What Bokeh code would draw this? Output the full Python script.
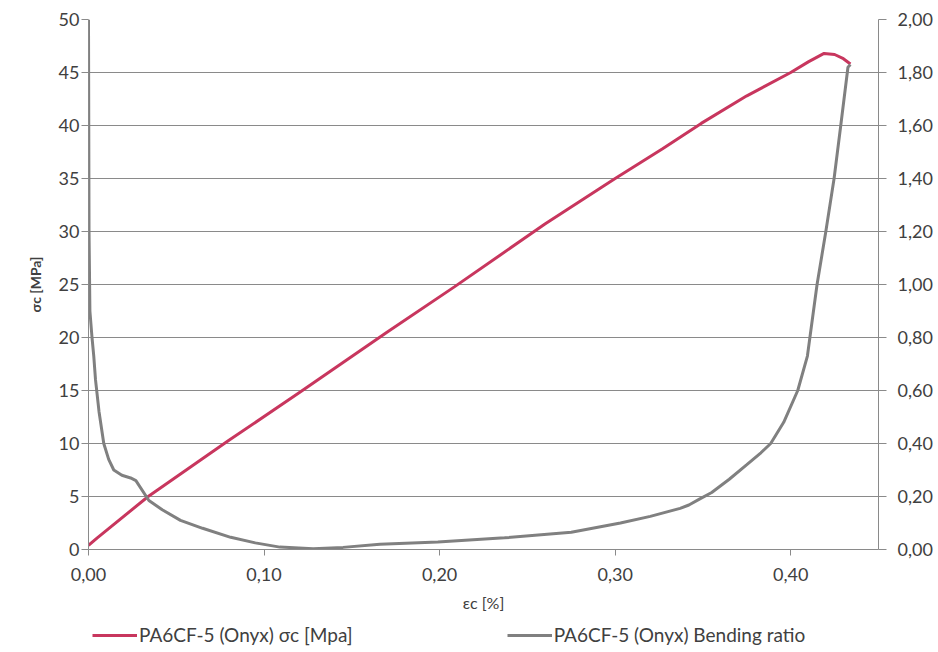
from bokeh.plotting import figure
from bokeh.layouts import column
from bokeh.models import (Range1d, LinearAxis, FixedTicker, CustomJSTickFormatter,
                          Legend, LegendItem)
from bokeh.embed import file_html
from bokeh.resources import INLINE

# ---- data ----
strain_stress = [0.0, 0.005, 0.034, 0.08, 0.121, 0.17, 0.2086, 0.26, 0.30, 0.327,
                 0.349, 0.375, 0.40, 0.41, 0.419, 0.425, 0.43, 0.434]
stress = [0.4, 1.1, 5.0, 10.3, 14.9, 20.5, 24.8, 30.7, 35.0, 37.8,
          40.2, 42.8, 45.0, 46.0, 46.8, 46.7, 46.3, 45.8]

strain_ratio = [0.0, 0.0003, 0.0008, 0.002, 0.003, 0.004, 0.006, 0.0087, 0.0115,
                0.0144, 0.019, 0.024, 0.027, 0.0344, 0.042, 0.0524, 0.065, 0.081,
                0.095, 0.109, 0.128, 0.145, 0.166, 0.199, 0.237, 0.275, 0.303,
                0.32, 0.337, 0.342, 0.348, 0.355, 0.365, 0.375, 0.383, 0.3886,
                0.396, 0.404, 0.4095, 0.415, 0.42, 0.4247, 0.4285, 0.4326, 0.434]
bending_ratio = [2.0, 1.2, 0.9, 0.8, 0.73, 0.64, 0.52, 0.40, 0.34,
                 0.30, 0.28, 0.27, 0.26, 0.185, 0.15, 0.11, 0.08, 0.046,
                 0.025, 0.009, 0.003, 0.008, 0.02, 0.028, 0.044, 0.065, 0.1,
                 0.125, 0.155, 0.168, 0.19, 0.215, 0.265, 0.32, 0.365, 0.40,
                 0.48, 0.6, 0.73, 1.0, 1.2, 1.4, 1.6, 1.82, 1.83]

x_ticks = [0.0, 0.1, 0.2, 0.3, 0.4]
y_ticks = [0, 5, 10, 15, 20, 25, 30, 35, 40, 45, 50]
y2_ticks = [0.0, 0.2, 0.4, 0.6, 0.8, 1.0, 1.2, 1.4, 1.6, 1.8, 2.0]

label_stress = "PA6CF-5 (Onyx) σc [Mpa]"
label_ratio = "PA6CF-5 (Onyx) Bending ratio"

FONT = "Lato"
TXT = "#404040"
GRID = "#8a8a8a"
RED = "#C8365E"
GREY = "#808080"

p = figure(frame_width=790, frame_height=530, output_backend="svg",
           toolbar_location=None,
           x_range=Range1d(0, 0.45), y_range=Range1d(0, 50),
           min_border_left=88, min_border_right=10, min_border_top=19,
           min_border_bottom=10)
p.outline_line_color = None
p.background_fill_color = "white"
p.border_fill_color = "white"
p.extra_y_ranges = {"ratio": Range1d(0, 2)}

r1 = p.line(strain_stress, stress, line_color=RED, line_width=3)
r2 = p.line(strain_ratio, bending_ratio, line_color=GREY, line_width=3,
            y_range_name="ratio")

comma2 = CustomJSTickFormatter(code="return tick.toFixed(2).replace('.', ',');")
comma0 = CustomJSTickFormatter(code="return tick.toFixed(0);")

def style_axis(ax):
    ax.axis_line_color = GRID
    ax.major_tick_line_color = GRID
    ax.major_tick_out = 7
    ax.major_tick_in = 0
    ax.minor_tick_line_color = None
    ax.major_label_text_font = FONT
    ax.major_label_text_font_size = "18px"
    ax.major_label_text_color = TXT
    ax.axis_label_text_font = FONT
    ax.axis_label_text_color = TXT

p.xaxis.ticker = FixedTicker(ticks=x_ticks)
p.xaxis.formatter = comma2
p.xaxis.axis_label = "εc [%]"
p.xaxis.axis_label_text_font_style = "normal"
p.xaxis.axis_label_text_font_size = "16px"
p.xaxis.major_label_standoff = 12
p.xaxis.axis_label_standoff = 9
style_axis(p.xaxis[0])
p.xaxis.major_tick_out = 6

p.yaxis.ticker = FixedTicker(ticks=y_ticks)
p.yaxis.formatter = comma0
p.yaxis.axis_label = "σc [MPa]"
p.yaxis.axis_label_text_font_style = "bold"
p.yaxis.axis_label_text_font_size = "14px"
p.yaxis.major_label_standoff = 2
p.yaxis.axis_label_standoff = 12
style_axis(p.yaxis[0])

ax2 = LinearAxis(y_range_name="ratio", ticker=FixedTicker(ticks=y2_ticks),
                 formatter=comma2)
style_axis(ax2)
ax2.major_tick_out = 8
ax2.major_label_standoff = 11
p.add_layout(ax2, "right")

p.xgrid.grid_line_color = None
p.ygrid.ticker = FixedTicker(ticks=y_ticks)
p.ygrid.grid_line_color = GRID
p.ygrid.grid_line_width = 1

# legend strip underneath the chart (series drawn off-view, only their keys show)
lg = figure(frame_width=790, frame_height=32, output_backend="svg",
            toolbar_location=None, x_axis_type=None, y_axis_type=None,
            x_range=Range1d(0, 0.45), y_range=Range1d(-20, -10),
            min_border_left=88, min_border_right=10, min_border_top=0,
            min_border_bottom=0)
lg.outline_line_color = None
lg.xgrid.grid_line_color = None
lg.ygrid.grid_line_color = None
k1 = lg.line(strain_stress, stress, line_color=RED, line_width=3)
k2 = lg.line(strain_ratio, bending_ratio, line_color=GREY, line_width=3)
legend = Legend(items=[LegendItem(label=label_stress, renderers=[k1]),
                       LegendItem(label=label_ratio, renderers=[k2])],
                orientation="horizontal", location=(4, 0),
                glyph_width=45, glyph_height=14, label_standoff=2,
                spacing=154, padding=4, margin=0,
                label_text_font=FONT, label_text_font_size="19px",
                label_text_color=TXT, border_line_color=None,
                background_fill_alpha=0)
lg.add_layout(legend, "center")

open("out.html", "w").write(file_html(column(p, lg), INLINE))
